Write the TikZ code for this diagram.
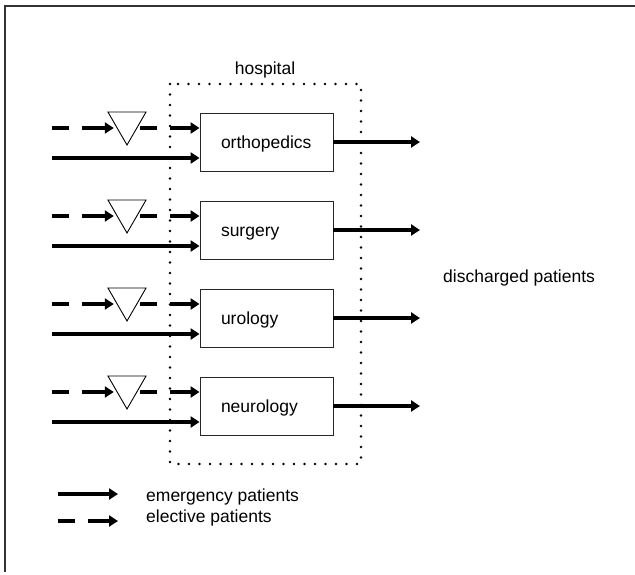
\documentclass[tikz,border=0pt]{standalone}
\usepackage{fontspec}
\setmainfont{Liberation Sans}
\usetikzlibrary{arrows.meta,shapes.geometric}

\begin{document}
\begin{tikzpicture}[x=1pt,y=-1pt,
  ward/.style={draw=black!85, line width=0.8pt, minimum width=133pt, minimum height=58pt,
    text width=91pt, inner xsep=21pt, align=left, text height=14pt, text depth=1pt,
    font=\fontsize{17.5}{20}\selectfont},
  queue/.style={draw, regular polygon, regular polygon sides=3, shape border rotate=180,
    minimum size=44pt, inner sep=0pt, line width=0.9pt},
  emergency/.style={line width=4pt, -{Triangle[length=9pt,width=11pt]}},
  elective/.style={line width=4pt, dash pattern=on 17pt off 13pt on 30pt off 13pt,
    -{Triangle[length=9pt,width=11pt]}},
  lbl/.style={font=\fontsize{17.5}{20}\selectfont, inner sep=0pt}]
\useasboundingbox (0,0) rectangle (635,574);
% frame
\draw[line width=2pt, black!80] (635,6) -- (5,6) -- (5,572);
% hospital
\draw[line width=2.6pt, dash pattern=on 0pt off 10.5pt, line cap=round] (170,84) rectangle (361,464);
\node[lbl] (hosp) at (265,70) {hospital};
\foreach \name/\txt/\y in {ortho/orthopedics/142, surg/surgery/230, uro/urology/318, neuro/neurology/406} {
  \node[ward] (\name) at (266.5,\y) {\txt};
  \node[queue] (q\name) at (127,\y-19) {};
  \coordinate (in\name) at (52,\y-14);
  \coordinate (er\name) at (52,\y+16);
  \coordinate (out\name) at (420,\y);
  \draw[elective] (in\name) -- (in\name -| q\name.west);
  \draw[elective] (in\name -| q\name.east) -- (in\name -| \name.west);
  \draw[emergency] (er\name) -- (er\name -| \name.west);
  \draw[emergency] (\name.east) -- (out\name);
}
\node[lbl, anchor=west] (disch) at (443,278) {discharged patients};
% legend
\coordinate (emA) at (58,494);
\coordinate (emB) at (118,494);
\coordinate (elA) at (58,521);
\coordinate (elB) at (118,521);
\draw[emergency] (emA) -- (emB);
\draw[elective] (elA) -- (elB);
\node[lbl, anchor=west] (emtxt) at (146,497) {emergency patients};
\node[lbl, anchor=west] (eltxt) at (146,518) {elective patients};
\end{tikzpicture}
\end{document}
